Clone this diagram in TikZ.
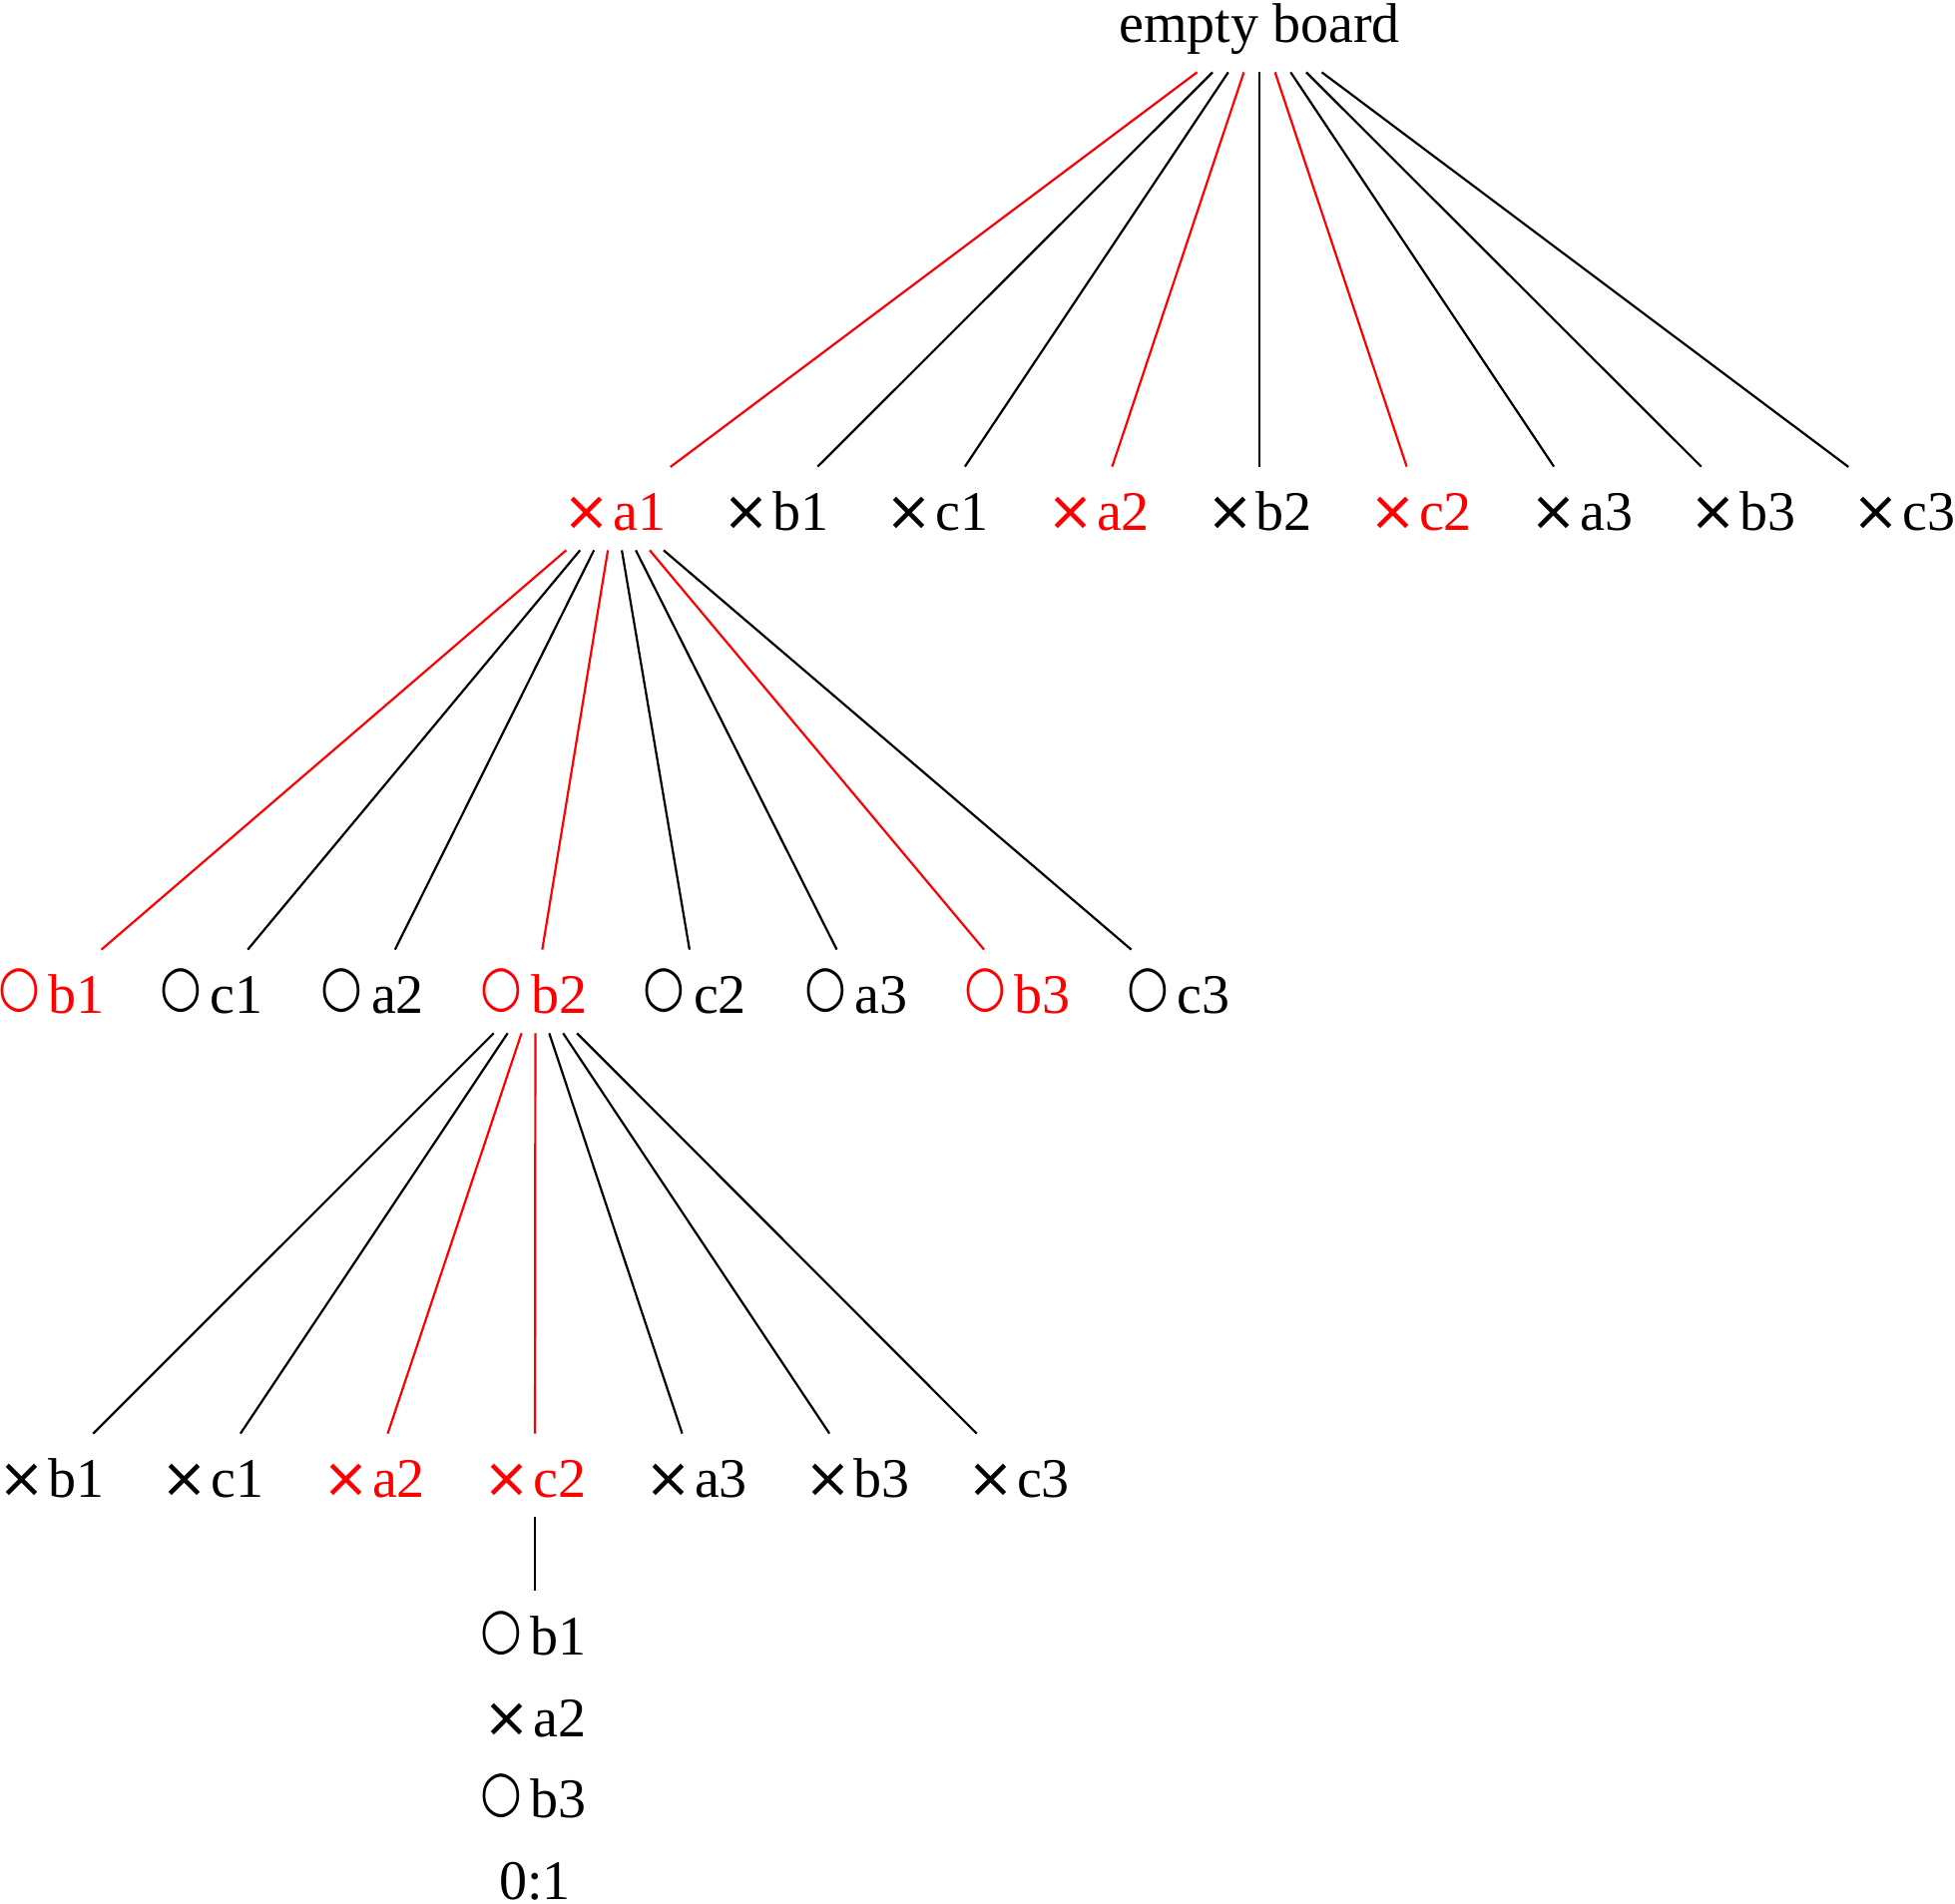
\documentclass[tikz,border=0pt]{standalone}
\usepackage{fontspec}
\setmainfont{Liberation Serif}
\newfontfamily\symfont{DejaVu Sans}
\newcommand\crs{{\symfont ×}\hspace{1.5pt}}
\newcommand\ccl{\hspace{-1.7pt}\raisebox{\depth}{\resizebox*{20.9pt}{22pt}{\symfont ○}}\hspace{4.3pt}}
\tikzset{
  tn/.style={font=\fontsize{28}{34}\selectfont, inner xsep=2pt, inner ysep=10pt, text height=21.5pt, text depth=0pt, anchor=base},
  rn/.style={tn, text=red},
  ed/.style={line width=1.1pt, draw=black},
  rde/.style={line width=1.1pt, draw=red}
}
\begin{document}
\begin{tikzpicture}[x=0.5pt,y=-0.5pt]
\useasboundingbox (0,0) rectangle (1959,1907);
% level 0
\node[tn, text depth=5pt] (root) at (1262,42) {empty board};
% level 1
\node[rn] (a1) at (616,531) {\crs a1};
\node[tn] (b1) at (777.5,531) {\crs b1};
\node[tn] (c1) at (939,531) {\crs c1};
\node[rn] (a2) at (1100.5,531) {\crs a2};
\node[tn] (b2) at (1262,531) {\crs b2};
\node[rn] (c2) at (1423.5,531) {\crs c2};
\node[tn] (a3) at (1585,531) {\crs a3};
\node[tn] (b3) at (1746.5,531) {\crs b3};
\node[tn] (c3) at (1908,531) {\crs c3};
\foreach \n in {b1,c1,b2,a3,b3,c3} \draw[ed] (root) -- (\n);
\foreach \n in {a1,a2,c2} \draw[rde] (root) -- (\n);
% level 2
\node[rn] (ob1) at (53,1015) {\ccl b1};
\node[tn] (oc1) at (213.5,1015) {\ccl c1};
\node[tn] (oa2) at (375,1015) {\ccl a2};
\node[rn] (ob2) at (536.5,1015) {\ccl b2};
\node[tn] (oc2) at (698,1015) {\ccl c2};
\node[tn] (oa3) at (859.5,1015) {\ccl a3};
\node[rn] (ob3) at (1021,1015) {\ccl b3};
\node[tn] (oc3) at (1182.5,1015) {\ccl c3};
\foreach \n in {oc1,oa2,oc2,oa3,oc3} \draw[ed] (a1) -- (\n);
\foreach \n in {ob1,ob2,ob3} \draw[rde] (a1) -- (\n);
% level 3
\node[tn] (xb1) at (51.5,1500) {\crs b1};
\node[tn] (xc1) at (213,1500) {\crs c1};
\node[rn] (xa2) at (374.5,1500) {\crs a2};
\node[rn] (xc2) at (536,1500) {\crs c2};
\node[tn] (xa3) at (697.5,1500) {\crs a3};
\node[tn] (xb3) at (859,1500) {\crs b3};
\node[tn] (xc3) at (1020.5,1500) {\crs c3};
\foreach \n in {xb1,xc1,xa3,xb3,xc3} \draw[ed] (ob2) -- (\n);
\foreach \n in {xa2,xc2} \draw[rde] (ob2) -- (\n);
% final line
\node[font=\fontsize{28}{40.8}\selectfont, align=center, inner xsep=2pt, inner ysep=10pt, anchor=north] (end) at (536,1594) {\ccl b1\\\crs a2\\\ccl b3\\0:1};
\draw[ed] (xc2) -- (end);
\end{tikzpicture}
\end{document}
